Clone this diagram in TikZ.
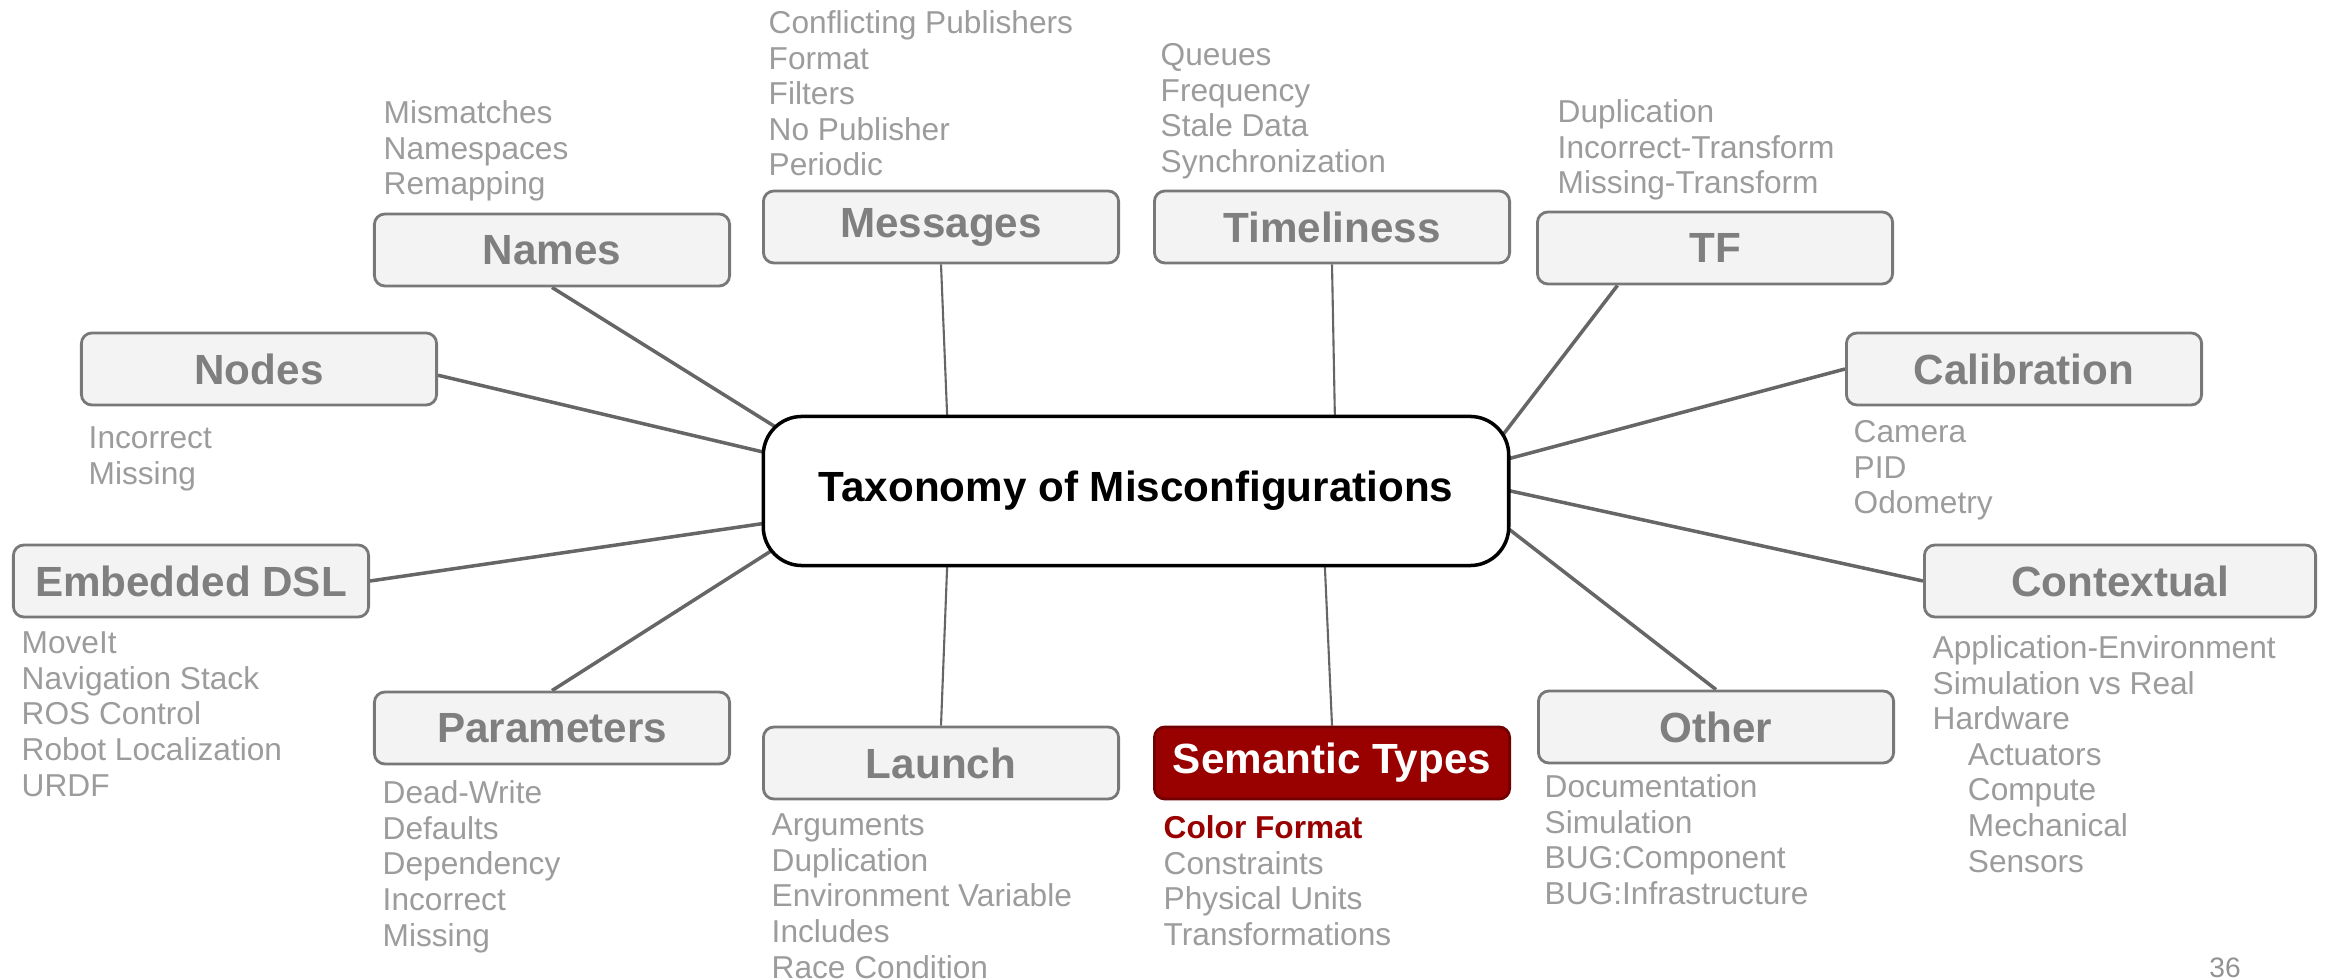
\documentclass[tikz,border=0pt]{standalone}
\usepackage{fontspec}
\setmainfont{Liberation Sans}
\usetikzlibrary{backgrounds,calc}
\definecolor{boxfill}{HTML}{F3F3F3}
\definecolor{boxline}{HTML}{787878}
\definecolor{labelgray}{HTML}{7F7F7F}
\definecolor{itemgray}{HTML}{9C9C9C}
\definecolor{linkgray}{HTML}{666666}
\definecolor{semred}{HTML}{990000}
\begin{document}
\begin{tikzpicture}[x=0.01cm,y=-0.01cm,
  cat/.style={draw=boxline, line width=0.8pt, fill=boxfill, rounded corners=3pt,
    minimum width=3.55cm, minimum height=0.72cm, inner sep=0pt,
    font=\fontsize{12}{14}\selectfont\bfseries, text=labelgray},
  hot/.style={cat, fill=semred, draw=semred!75!black, text=white},
  % lists are placed by the baseline of their last line
  items/.style={anchor=base west, align=left, inner sep=0pt,
    font=\fontsize{9}{10.1}\selectfont, text=itemgray},
  link/.style={draw=linkgray, line width=1pt},
  thinlink/.style={draw=linkgray, line width=0.6pt}]

\useasboundingbox (0,0) rectangle (2328,980);

% central box
\node[draw=black, line width=1pt, fill=white, rounded corners=11pt,
  minimum width=7.45cm, minimum height=1.49cm, inner sep=0pt,
  font=\fontsize{12}{14}\selectfont\bfseries] (tax) at (1136,491)
  {Taxonomy of Misconfigurations};

% category boxes
\node[cat] (names)    at (552,250)  {Names};
\node[cat] (messages) at (941,227)  {Messages};
\node[cat] (timeli)   at (1332,227) {Timeliness};
\node[cat] (tf)       at (1715,248) {TF};
\node[cat] (nodes)    at (259,369)  {Nodes};
\node[cat] (calib)    at (2024,369) {Calibration};
\node[cat] (edsl)     at (191,581)  {Embedded DSL};
\node[cat, minimum width=3.91cm] (context) at (2120,581) {Contextual};
\node[cat] (params)   at (552,728)  {Parameters};
\node[cat] (launch)   at (941,763)  {Launch};
\node[hot] (semantic) at (1332,763) {Semantic Types};
\node[cat] (other)    at (1716,727) {Other};

% sub-category lists
\node[items] (namesl) at (383,195) {Mismatches\\Namespaces\\Remapping};
\node[items] (messagesl) at (768,176) {Conflicting Publishers\\Format\\Filters\\No Publisher\\Periodic};
\node[items] (timelil) at (1160,172.5) {Queues\\Frequency\\Stale Data\\Synchronization};
\node[items] (tfl) at (1557,194) {Duplication\\Incorrect-Transform\\Missing-Transform};
\node[items] (nodesl) at (88,484.5) {Incorrect\\Missing};
\node[items] (calibl) at (1853,514) {Camera\\PID\\Odometry};
\node[items] (edsll) at (21,796) {MoveIt\\Navigation Stack\\ROS Control\\Robot Localization\\URDF};
\node[items] (paramsl) at (382,946) {Dead-Write\\Defaults\\Dependency\\Incorrect\\Missing};
\node[items] (launchl) at (771,978) {Arguments\\Duplication\\Environment Variable\\Includes\\Race Condition};
\node[items] (semanticl) at (1163,945.5) {{\color{semred}\bfseries Color Format}\\Constraints\\Physical Units\\Transformations};
\node[items] (otherl) at (1544,904.5) {Documentation\\Simulation\\BUG:Component\\BUG:Infrastructure};
\node[items] (contextl) at (1932,872) {Application-Environment\\Simulation vs Real\\Hardware\\
  \hspace*{10pt}Actuators\\\hspace*{10pt}Compute\\\hspace*{10pt}Mechanical\\\hspace*{10pt}Sensors};

% page number
\node[font=\fontsize{8}{10}\selectfont, text=labelgray!85, inner sep=0pt] (pagenum) at (2225,968) {36};

% connectors, tucked under the central box
\begin{scope}[on background layer]
  \draw[link]     (names.south)  -- ($(names.south)!1.2!(tax.169.7)$);
  \draw[link]     (nodes.-2.6)   -- ($(nodes.-2.6)!1.2!(tax.174.2)$);
  \draw[thinlink] (messages.south) -- ($(messages.south)!1.2!(tax.158.3)$);
  \draw[thinlink] (timeli.south) -- ($(timeli.south)!1.2!(tax.21.5)$);
  \draw[link]     (tf.201.6)     -- ($(tf.201.6)!1.2!(tax.10.3)$);
  \draw[link]     (calib.west)   -- ($(calib.west)!1.2!(tax.5.8)$);
  \draw[link]     (edsl.east)    -- ($(edsl.east)!1.2!(tax.185.7)$);
  \draw[link]     (context.west) -- ($(context.west)!1.2!(tax.0)$);
  \draw[link]     (params.north) -- ($(params.north)!1.2!(tax.190)$);
  \draw[thinlink] (launch.north) -- ($(launch.north)!1.2!(tax.202)$);
  \draw[thinlink] (semantic.north) -- ($(semantic.north)!1.2!(tax.338.3)$);
  \draw[link]     (other.north)  -- ($(other.north)!1.2!(tax.354.3)$);
\end{scope}
\end{tikzpicture}
\end{document}
